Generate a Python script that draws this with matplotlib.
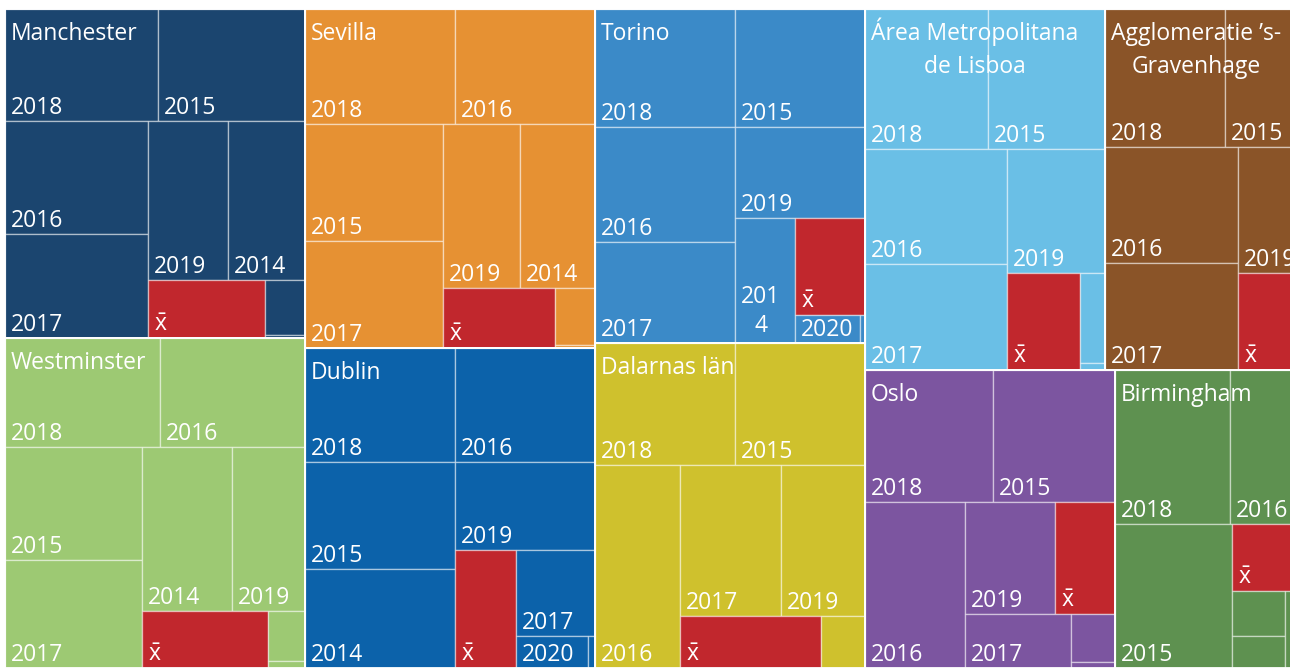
import matplotlib.pyplot as plt
from matplotlib.patches import Rectangle

plt.rcParams["mathtext.fontset"] = "custom"
plt.rcParams["mathtext.rm"] = "Open Sans"

# regions in drawing order
regions = ["Manchester", "Westminster", "Sevilla", "Dublin", "Torino",
           "Dalarnas län", "Área Metropolitana\nde Lisboa",
           "Agglomeratie \u2019s-\nGravenhage", "Oslo", "Birmingham"]
region_colors = ["#1b456f", "#9dc973", "#e69133", "#0c62aa", "#3b8ac8",
                 "#cfc12d", "#6abfe6", "#8a5428", "#7c55a0", "#5e9150"]
MEAN = r"$\bar{\mathrm{x}}$"

manchester_years = ["2018", "2015", "2016", "2017", "2019", "2014", MEAN, "2020", "2013"]
manchester_values = [172.9, 166.1, 161.6, 150.2, 128.0, 123.2, 67.9, 22.0, 1.2]
westminster_years = ["2018", "2016", "2015", "2017", "2014", "2019", MEAN, "2020", "2013"]
westminster_values = [170.5, 159.5, 154.8, 149.3, 148.5, 120.5, 71.8, 18.5, 2.6]
sevilla_years = ["2018", "2016", "2015", "2017", "2019", "2014", MEAN, "2020", "2013"]
sevilla_values = [174.0, 162.4, 161.5, 149.0, 127.1, 123.8, 67.2, 22.8, 1.2]
dublin_years = ["2018", "2016", "2015", "2014", "2019", MEAN, "2017", "2020", "2013"]
dublin_values = [172.5, 161.0, 160.5, 150.0, 123.2, 72.6, 68.7, 23.0, 2.2]
torino_years = ["2018", "2015", "2016", "2017", "2019", "2014", MEAN, "2020", "2013"]
torino_values = [166.6, 154.7, 161.0, 142.8, 118.3, 75.6, 68.6, 18.2, 1.4]
dalarnas_years = ["2018", "2015", "2016", "2017", "2019", MEAN, "2014"]
dalarnas_values = [172.2, 159.9, 173.4, 153.5, 127.7, 73.3, 22.9]
lisboa_years = ["2018", "2015", "2016", "2017", "2019", MEAN, "2014", "2020"]
lisboa_values = [173.4, 165.0, 164.7, 150.5, 122.5, 70.8, 22.5, 1.8]
haag_years = ["2018", "2015", "2016", "2017", "2019", MEAN]
haag_values = [166.8, 111.2, 155.6, 142.3, 85.1, 65.0]
oslo_years = ["2018", "2015", "2016", "2019", MEAN, "2017", "2014", "2020"]
oslo_values = [170.2, 162.3, 167.0, 101.7, 67.8, 57.2, 21.1, 2.6]
birmingham_years = ["2018", "2016", "2015", MEAN, "2019", "2017", "2014", "2020"]
birmingham_values = [178.3, 116.3, 169.7, 49.6, 24.0, 17.0, 10.0, 5.2]

region_years = [manchester_years, westminster_years, sevilla_years, dublin_years,
                torino_years, dalarnas_years, lisboa_years, haag_years,
                oslo_years, birmingham_years]
region_values = [manchester_values, westminster_values, sevilla_values, dublin_values,
                 torino_values, dalarnas_values, lisboa_values, haag_values,
                 oslo_values, birmingham_values]

# how many cells go in each strip inside a region (as in the original layout)
region_strips = [[2, 2, 2, 1, 1, 1], [2, 2, 2, 1, 1, 1], [2, 2, 2, 1, 1, 1],
                 [2, 2, 1, 1, 1, 1, 1], [2, 2, 1, 1, 1, 1, 1], [2, 1, 2, 1, 1],
                 [2, 2, 1, 1, 1, 1], [2, 2, 1, 1], [2, 1, 2, 1, 1, 1],
                 [2, 1, 1, 2, 2]]

FONT = ["Open Sans", "DejaVu Sans"]
FS = 16.5
W, H = 1300, 659


def worst(row, side):
    t = sum(row) / side
    return max(max(a / t / t, t * t / a) for a in row)


def squarify(values, x, y, w, h, strips=None):
    # top level: strips along the shorter side, sized by aspect ratio;
    # inside a region: given strip sizes, alternating row / column
    scale = w * h / sum(values)
    areas = [v * scale for v in values]
    rects = []
    i, k = 0, 0
    while i < len(areas):
        if strips is not None:
            n = strips[k]
            horizontal = k % 2 == 0
        else:
            horizontal = w <= h
            side = min(w, h)
            n = 1
            best = worst(areas[i:i + 1], side)
            while i + n < len(areas):
                nxt = worst(areas[i:i + n + 1], side)
                if nxt > best:
                    break
                best = nxt
                n += 1
        row = areas[i:i + n]
        if horizontal:
            thick = sum(row) / w
            cx = x
            for a in row:
                rects.append((cx, y, a / thick, thick))
                cx += a / thick
            y += thick
            h -= thick
        else:
            thick = sum(row) / h
            cy = y
            for a in row:
                rects.append((x, cy, thick, a / thick))
                cy += a / thick
            x += thick
            w -= thick
        i += n
        k += 1
    return rects


fig = plt.figure(figsize=(12.9, 6.68), dpi=100)
ax = fig.add_axes([5 / 1290, 0, W / 1290, H / 668])
ax.set_xlim(0, W)
ax.set_ylim(H, 0)
ax.axis("off")
renderer = fig.canvas.get_renderer()


def text_width(s):
    t = ax.text(0, 0, s, fontsize=FS, family=FONT)
    wpx = t.get_window_extent(renderer).width
    t.remove()
    return wpx


totals = [sum(v) for v in region_values]
outer = squarify(totals, 0, 0, W, H)

for name, color, years, vals, strips, (rx, ry, rw, rh) in zip(
        regions, region_colors, region_years, region_values, region_strips, outer):
    cells = squarify(vals, rx, ry, rw, rh, strips)
    for lab, (x, y, w, h) in zip(years, cells):
        fc = "#c1272d" if lab == MEAN else color
        ax.add_patch(Rectangle((x, y), w, h, facecolor=fc,
                               edgecolor=(1, 1, 1, 0.45), lw=1.0, zorder=1))
        if h < 24:
            continue
        if text_width(lab) <= w - 10:
            ax.text(x + 6, y + h - 7, lab, color="white", fontsize=FS,
                    family=FONT, ha="left", va="baseline", zorder=4)
        elif w >= 45 and h >= 60:
            n = len(lab)
            while n > 1 and text_width(lab[:n]) > w - 10:
                n -= 1
            ax.text(x + 6, y + h - 11, lab[:n] + "\n" + lab[n:], color="white",
                    fontsize=FS, family=FONT, ha="left", va="baseline",
                    multialignment="center", linespacing=1.25, zorder=4)
    ax.add_patch(Rectangle((rx, ry), rw, rh, facecolor="none",
                           edgecolor="white", lw=1.3, zorder=3))
    nlines = name.count("\n")
    ax.text(rx + 6, ry + 31 + 33 * nlines, name, color="white", fontsize=FS,
            family=FONT, ha="left", va="baseline", multialignment="center",
            linespacing=1.5, zorder=5)

fig.savefig("out.png", dpi=100, facecolor="white")
